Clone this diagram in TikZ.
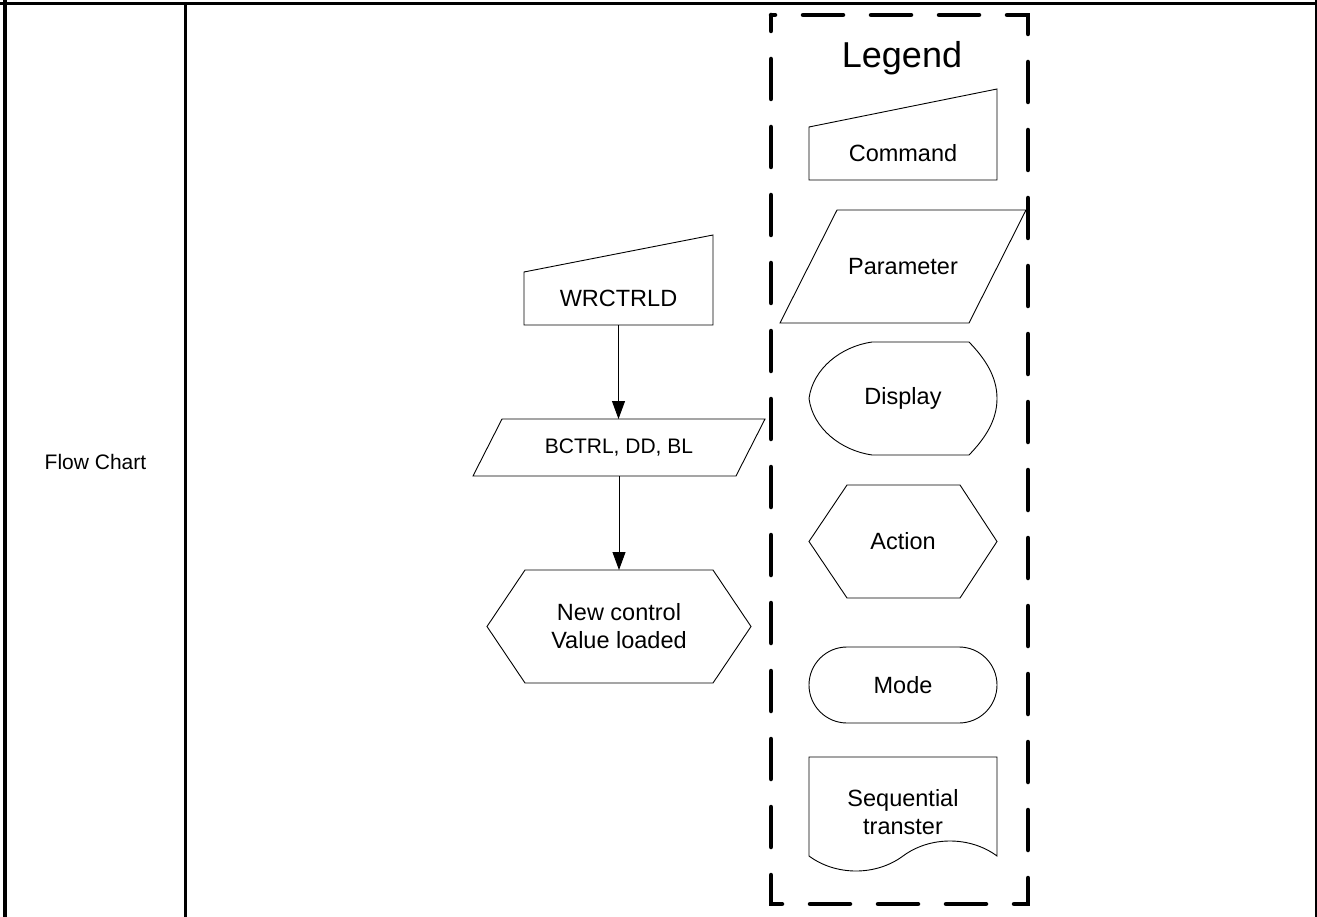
\documentclass[tikz,border=0pt]{standalone}
\usepackage{fontspec}
\setmainfont{Liberation Sans}
\usetikzlibrary{arrows.meta}

\begin{document}
\begin{tikzpicture}[
    x=1pt, y=-1pt,
    txt/.style={inner sep=0pt, outer sep=0pt, align=center,
        font=\fontsize{23.5}{28}\selectfont},
    small/.style={font=\fontsize{21}{25}\selectfont},
    shp/.style={draw=black, line width=0.9pt, line join=miter},
    legendbox/.style={draw=black, line width=4.5pt, line cap=round,
        dash pattern=on 40pt off 28pt, dash phase=24pt},
    arrow/.style={-{Triangle[length=18pt, width=13pt]}, line width=0.9pt, draw=black}
]
\useasboundingbox (0,0) rectangle (1317,917);

% Table rules
\draw[line width=2.7pt] (0,3.3) -- (1317,3.3);
\draw[line width=4pt] (5.3,0) -- (5.3,917);
\draw[line width=2.4pt] (185.5,3.3) -- (185.5,917);
\draw[line width=2.4pt] (1315.8,0) -- (1315.8,917);

% Row label
\node[txt, small] (rowlabel) at (95.5,462) {Flow Chart};

% Flow chart
\node[txt, minimum width=189pt, minimum height=53pt] (wrctrld) at (618.5,298.5) {WRCTRLD};
\draw[shp, shift={(wrctrld)}] (-94.5,26.5) -- (94.5,26.5) -- (94.5,-63.5) -- (-94.5,-26.5) -- cycle;

\node[txt, small, minimum width=263pt, minimum height=57pt] (params) at (619,447.5) {BCTRL, DD, BL};
\draw[shp, shift={(params)}] (-117,-28.5) -- (146,-28.5) -- (117,28.5) -- (-146,28.5) -- cycle;

\node[txt, minimum width=264pt, minimum height=113pt] (loaded) at (619,626.5) {New control\\Value loaded};
\draw[shp, shift={(loaded)}] (-132,0) -- (-94,-56.5) -- (94,-56.5) -- (132,0) -- (94,56.5) -- (-94,56.5) -- cycle;

\draw[arrow] (wrctrld.south) -- (wrctrld.south |- params.north);
\draw[arrow] (params.south) -- (params.south |- loaded.north);

% Legend
\draw[legendbox] (771,15) rectangle (1028,904);
\node[txt, font=\fontsize{36}{40}\selectfont] (legend) at (902,58) {Legend};

\node[txt, minimum width=188pt, minimum height=53pt] (command) at (903,153.5) {Command};
\draw[shp, shift={(command)}] (-94,26.5) -- (94,26.5) -- (94,-64.5) -- (-94,-26.5) -- cycle;

\node[txt, minimum width=189pt, minimum height=113pt] (parameter) at (903,266.5) {Parameter};
\draw[shp, shift={(parameter)}] (-66,-56.5) -- (123,-56.5) -- (66,56.5) -- (-123,56.5) -- cycle;

\node[txt, minimum width=188pt, minimum height=113pt] (display) at (903,398.5) {Display};
\draw[shp, shift={(display)}] (-31,-56.5) -- (66,-56.5)
    .. controls (82,-40) and (94,-22) .. (94,0)
    .. controls (94,22) and (82,40) .. (66,56.5) -- (-31,56.5)
    .. controls (-62,52) and (-90,30) .. (-94,0)
    .. controls (-90,-30) and (-62,-52) .. (-31,-56.5) -- cycle;

\node[txt, minimum width=188pt, minimum height=113pt] (action) at (903,541.5) {Action};
\draw[shp, shift={(action)}] (-94,0) -- (-56,-56.5) -- (57,-56.5) -- (94,0) -- (57,56.5) -- (-56,56.5) -- cycle;

\node[txt, shp, rounded corners=38pt, minimum width=188pt, minimum height=76pt] (mode) at (903,685) {Mode};

\node[txt, minimum width=188pt, minimum height=110pt] (seq) at (903,812) {Sequential\\transter};
\draw[shp, shift={(seq)}] (-94,-55) -- (94,-55) -- (94,44)
    .. controls (67,24) and (27,24) .. (0,44)
    .. controls (-27,64) and (-67,64) .. (-94,44) -- cycle;

\end{tikzpicture}
\end{document}
